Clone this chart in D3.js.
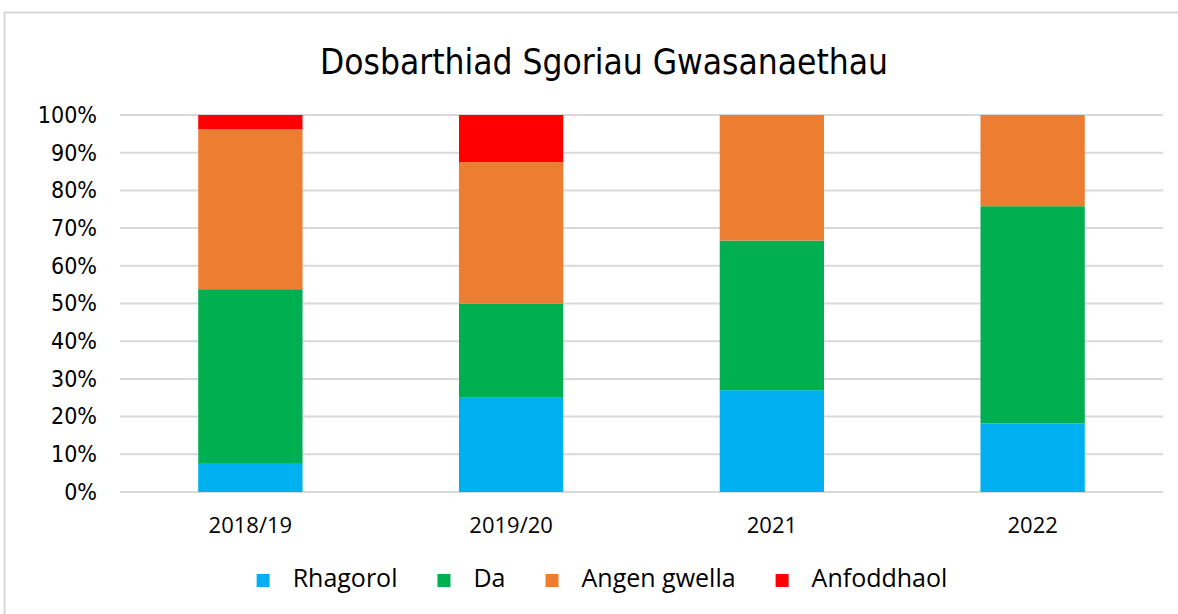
<!DOCTYPE html>
<html>
<head>
<meta charset="utf-8">
<script src="https://cdn.jsdelivr.net/npm/d3@7"></script>
<style>
  body { margin: 0; background: #fff; }
  svg { display: block; }
</style>
</head>
<body>
<div id="chart"></div>
<script>
// data (shares, %)
let years = ["2018/19", "2019/20", "2021", "2022"];
let seriesNames = ["Rhagorol", "Da", "Angen gwella", "Anfoddhaol"];
let rhagorol    = [7.7, 25.0, 27.0, 18.2];
let da          = [46.1, 25.0, 39.7, 57.6];
let angenGwella = [42.4, 37.5, 33.3, 24.2];
let anfoddhaol  = [3.8, 12.5, 0, 0];
let yTicks = [0, 10, 20, 30, 40, 50, 60, 70, 80, 90, 100];
let colors = ["#00b0f0", "#00b050", "#ed7d31", "#ff0000"];

let width = 1178, height = 614;

let svg = d3.select("#chart")
    .append("svg")
    .attr("width", width)
    .attr("height", height);

// outer chart border
svg.append("rect")
    .attr("x", 4.5).attr("y", 12.5)
    .attr("width", 1180).attr("height", 640)
    .attr("fill", "none")
    .attr("stroke", "#d9d9d9")
    .attr("stroke-width", 2);

let rows = years.map(function (y, i) {
  return {year: y, "Rhagorol": rhagorol[i], "Da": da[i],
          "Angen gwella": angenGwella[i], "Anfoddhaol": anfoddhaol[i]};
});

let stack = d3.stack().keys(seriesNames);
let layers = stack(rows);

let x = d3.scaleBand()
    .domain(years)
    .range([120, 1163])
    .paddingInner(0.6)
    .paddingOuter(0.3);

let y = d3.scaleLinear()
    .domain([0, 100])
    .range([492, 115]);

// gridlines
svg.append("g")
    .selectAll("line")
    .data(yTicks)
    .enter().append("line")
    .attr("x1", 120).attr("x2", 1163)
    .attr("y1", function (d) { return y(d); })
    .attr("y2", function (d) { return y(d); })
    .attr("stroke", "#d9d9d9")
    .attr("stroke-width", 2);

// y axis labels
let yAxis = d3.axisLeft(y)
    .tickValues(yTicks)
    .tickFormat(function (d) { return d + "%"; })
    .tickSize(0)
    .tickPadding(0);

let yg = svg.append("g")
    .attr("transform", "translate(97,0)")
    .call(yAxis);
yg.select(".domain").remove();
yg.selectAll("text")
    .attr("fill", "#000")
    .style("font-family", "'DejaVu Sans Condensed', 'DejaVu Sans', sans-serif")
    .style("font-stretch", "condensed")
    .style("font-size", "23px");

// bars
svg.append("g")
    .selectAll("g")
    .data(layers)
    .enter().append("g")
    .attr("fill", function (d, i) { return colors[i]; })
    .selectAll("rect")
    .data(function (d) { return d; })
    .enter().append("rect")
    .attr("x", function (d) { return x(d.data.year); })
    .attr("width", x.bandwidth())
    .attr("y", function (d) { return y(d[1]); })
    .attr("height", function (d) { return y(d[0]) - y(d[1]); });

// x axis labels
let xAxis = d3.axisBottom(x).tickSize(0).tickPadding(0);
let xg = svg.append("g")
    .attr("transform", "translate(0,517)")
    .call(xAxis);
xg.select(".domain").remove();
xg.selectAll("text")
    .attr("fill", "#000")
    .attr("dy", "0.71em")
    .style("font-family", "'Open Sans', sans-serif")
    .style("font-size", "22px");

// title
svg.append("text")
    .attr("x", 604)
    .attr("y", 74)
    .attr("text-anchor", "middle")
    .style("font-family", "'DejaVu Sans Condensed', 'DejaVu Sans', sans-serif")
    .style("font-stretch", "condensed")
    .style("font-size", "35px")
    .attr("fill", "#000")
    .text("Dosbarthiad Sgoriau Gwasanaethau");

// legend
let legend = svg.append("g");
let items = legend.selectAll("g")
    .data(seriesNames)
    .enter().append("g");
items.append("rect")
    .attr("width", 13).attr("height", 13)
    .attr("y", 574)
    .attr("fill", function (d, i) { return colors[i]; });
items.append("text")
    .attr("x", 36)
    .attr("y", 587)
    .style("font-family", "'Open Sans', sans-serif")
    .style("font-size", "25px")
    .attr("fill", "#000")
    .text(function (d) { return d; });

let pos = 0, xs = [];
items.each(function () {
  xs.push(pos);
  pos += 36 + d3.select(this).select("text").node().getComputedTextLength() + 40;
});
let total = pos - 40;
let start = 602 - total / 2;
items.attr("transform", function (d, i) { return "translate(" + (start + xs[i]) + ",0)"; });
</script>
</body>
</html>
